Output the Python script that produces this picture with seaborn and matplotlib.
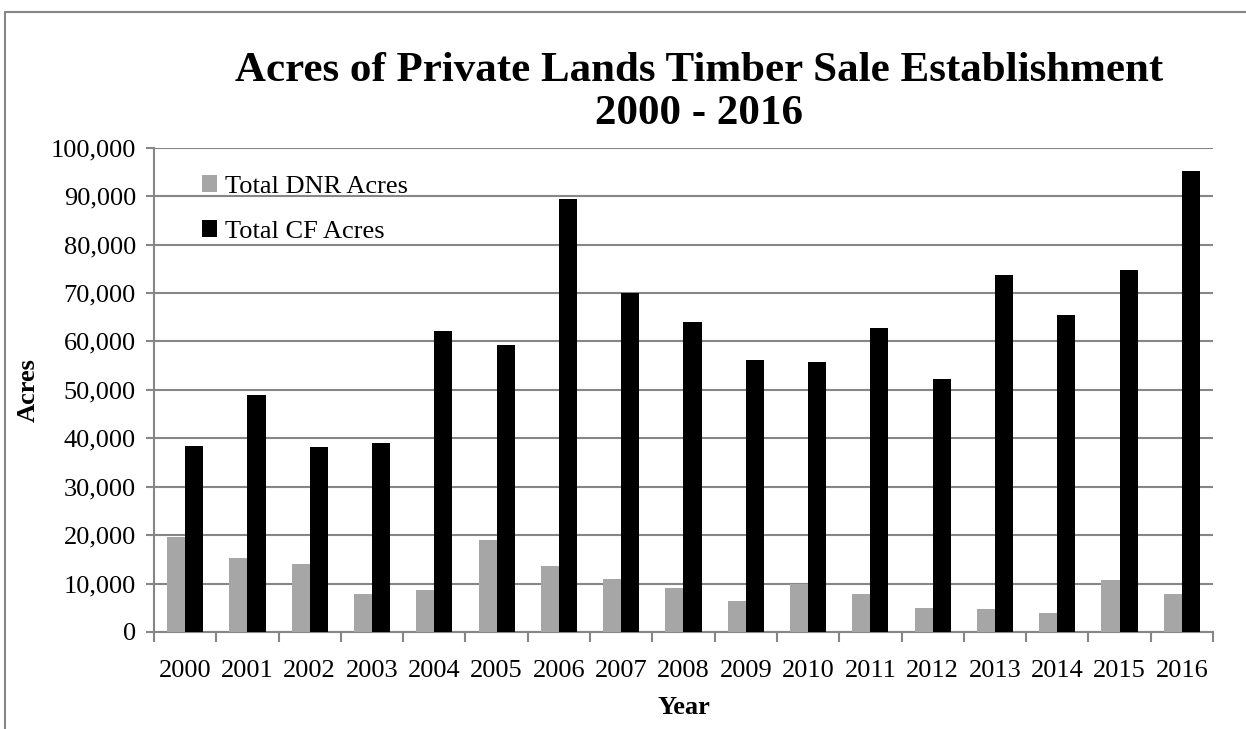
import numpy as np
import pandas as pd
import matplotlib
matplotlib.use("Agg")
import matplotlib.pyplot as plt
from matplotlib.ticker import FuncFormatter, FixedLocator
from matplotlib.lines import Line2D
import seaborn as sns

# data
years = [str(y) for y in range(2000, 2017)]
dnr_acres = [19700, 15300, 14100, 7800, 8700, 18900, 13600, 10900, 9000,
             6400, 10000, 7800, 5000, 4800, 3900, 10700, 7800]
cf_acres = [38300, 48900, 38100, 39100, 62200, 59300, 89500, 69900, 64000,
            56200, 55700, 62800, 52200, 73800, 65500, 74700, 95100]
series_names = ["Total DNR Acres", "Total CF Acres"]

df = pd.DataFrame({
    "Year": years * 2,
    "Acres": dnr_acres + cf_acres,
    "Series": [series_names[0]] * len(years) + [series_names[1]] * len(years),
})

sns.set_style("white")
plt.rcParams["font.family"] = ["Liberation Serif", "DejaVu Serif"]
plt.rcParams["text.color"] = "black"
plt.rcParams["axes.labelcolor"] = "black"
plt.rcParams["xtick.color"] = "black"
plt.rcParams["ytick.color"] = "black"

fig = plt.figure(figsize=(12.46, 7.29), dpi=100)
ax = fig.add_axes([0.1236, 0.1331, 0.9735 - 0.1236, 0.7974 - 0.1331])

grid_col = "#868686"
sns.barplot(data=df, x="Year", y="Acres", hue="Series",
            palette=["#A6A6A6", "#000000"], width=0.58, gap=0,
            saturation=1, linewidth=0, ax=ax, zorder=3)

ax.set_ylim(0, 100000)
ax.set_yticks(np.arange(0, 100001, 10000))
ax.yaxis.set_major_formatter(FuncFormatter(lambda v, p: f"{v:,.0f}"))
ax.grid(axis="y", color=grid_col, linewidth=1.5, zorder=0)
ax.set_axisbelow(True)

for s in ["top", "right"]:
    ax.spines[s].set_visible(False)
for s in ["left", "bottom"]:
    ax.spines[s].set_color(grid_col)
    ax.spines[s].set_linewidth(1.5)

# x tick marks sit between categories
ax.xaxis.set_minor_locator(FixedLocator(np.arange(-0.5, len(years), 1.0)))
ax.tick_params(axis="x", which="major", length=0, labelsize=19, pad=20)
ax.tick_params(axis="x", which="minor", length=7, width=1.5, color=grid_col,
               direction="out", bottom=True)
ax.tick_params(axis="y", which="major", length=6, width=1.5, color=grid_col,
               labelsize=19, labelcolor="black", left=True, pad=7)

ax.set_xlabel("Year", fontsize=19, fontweight="bold", labelpad=10)
ax.set_ylabel("Acres", fontsize=19, fontweight="bold", labelpad=8)

leg = ax.legend(loc="upper left", bbox_to_anchor=(0.035, 0.965), frameon=False,
                fontsize=19, handlelength=0.6, handleheight=0.6,
                handletextpad=0.3, labelspacing=0.85, borderaxespad=0)

fig.text(0.561, 0.873, "Acres of Private Lands Timber Sale Establishment\n2000 - 2016",
         ha="center", va="center", fontsize=31, fontweight="bold",
         linespacing=1.15)

# outer chart border (left and top)
fig.add_artist(Line2D([0.004, 0.004], [0.0, 0.984], color=grid_col, lw=1.5,
                      transform=fig.transFigure))
fig.add_artist(Line2D([0.004, 1.0], [0.984, 0.984], color=grid_col, lw=1.5,
                      transform=fig.transFigure))

fig.savefig("out.png", dpi=100)
